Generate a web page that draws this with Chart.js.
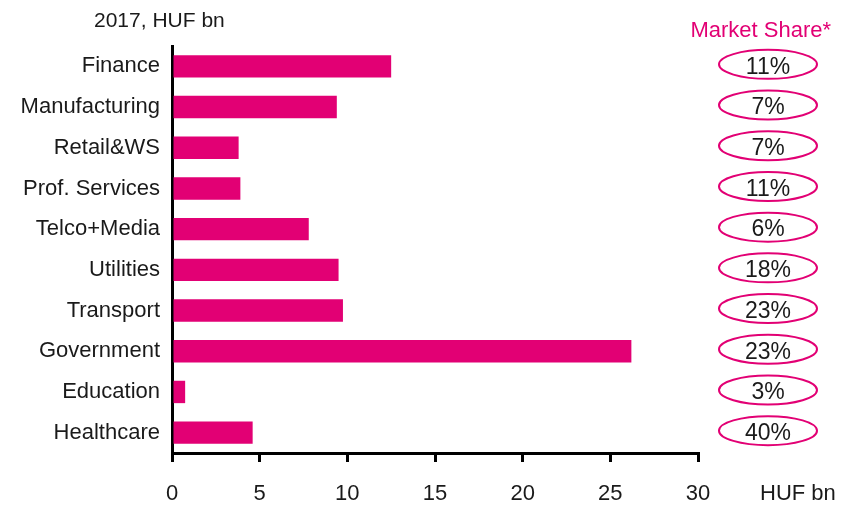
<!DOCTYPE html>
<html>
<head>
<meta charset="utf-8">
<script src="https://cdn.jsdelivr.net/npm/chart.js@4.4.1/dist/chart.umd.min.js"></script>
<style>
  html, body { margin: 0; padding: 0; background: #fff; }
  #wrap { width: 850px; height: 505px; position: relative; }
</style>
</head>
<body>
<div id="wrap"><canvas id="chart"></canvas></div>
<script>
// --- data ---
const categories = ['Finance', 'Manufacturing', 'Retail&WS', 'Prof. Services', 'Telco+Media',
                    'Utilities', 'Transport', 'Government', 'Education', 'Healthcare'];
const revenue = [12.5, 9.4, 3.8, 3.9, 7.8, 9.5, 9.75, 26.2, 0.75, 4.6];
const marketShare = ['11%', '7%', '7%', '11%', '6%', '18%', '23%', '23%', '3%', '40%'];
const xTicks = [0, 5, 10, 15, 20, 25, 30];

const MAGENTA = '#e20074';
const TEXT = '#1a1a1a';
const FONT = "'Liberation Sans', Arial, sans-serif";

// titles + market share ellipses
const extras = {
    id: 'extras',
    afterDraw(chart) {
        const ctx = chart.ctx;
        const y = chart.scales.y;
        ctx.save();
        ctx.font = `21px ${FONT}`;
        ctx.textBaseline = 'alphabetic';
        ctx.fillStyle = TEXT;
        ctx.textAlign = 'left';
        ctx.fillText('2017, HUF bn', 94, 27);
        ctx.font = `22px ${FONT}`;
        ctx.fillStyle = MAGENTA;
        ctx.textAlign = 'right';
        ctx.fillText('Market Share*', 831, 37);

        ctx.fillStyle = TEXT;
        ctx.textAlign = 'left';
        ctx.textBaseline = 'middle';
        ctx.fillText('HUF bn', 760, 494);

        ctx.font = `23px ${FONT}`;
        ctx.textAlign = 'center';
        marketShare.forEach((s, i) => {
            const cy = y.getPixelForValue(i) - 2;
            ctx.beginPath();
            ctx.ellipse(768, cy, 49, 14.5, 0, 0, Math.PI * 2);
            ctx.strokeStyle = MAGENTA;
            ctx.lineWidth = 2;
            ctx.stroke();
            ctx.fillText(s, 768, cy + 3);
        });
        ctx.restore();
    }
};

new Chart(document.getElementById('chart'), {
    type: 'bar',
    data: {
        labels: categories,
        datasets: [{
            data: revenue,
            backgroundColor: MAGENTA,
            barPercentage: 0.55,
            categoryPercentage: 1
        }]
    },
    options: {
        indexAxis: 'y',
        responsive: true,
        maintainAspectRatio: false,
        animation: false,
        layout: { padding: { top: 46, right: 152, bottom: 0, left: 0 } },
        plugins: { legend: { display: false }, tooltip: { enabled: false } },
        scales: {
            x: {
                min: 0, max: 30,
                afterBuildTicks: s => { s.ticks = xTicks.map(v => ({ value: v })); },
                afterFit: s => { s.height = 52; },
                grid: { drawOnChartArea: false, drawTicks: true, tickLength: 9, color: '#000', lineWidth: 3 },
                border: { display: true, color: '#000', width: 3 },
                ticks: { color: TEXT, padding: 19, font: { family: FONT, size: 22 } }
            },
            y: {
                afterFit: s => { s.width = 172; },
                grid: { display: false },
                border: { display: true, color: '#000', width: 3 },
                ticks: { color: TEXT, padding: 4, font: { family: FONT, size: 22 } }
            }
        }
    },
    plugins: [extras]
});
</script>
</body>
</html>
